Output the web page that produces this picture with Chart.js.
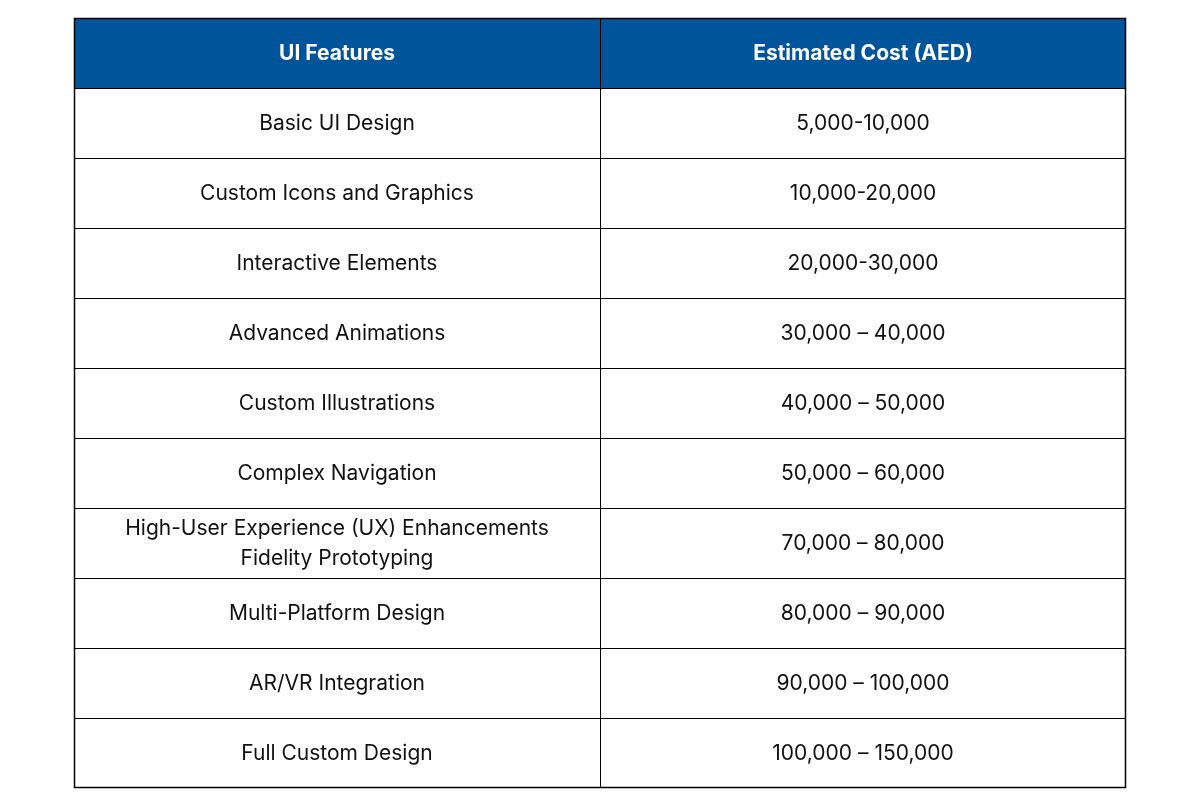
<!DOCTYPE html>
<html><head><meta charset="utf-8">
<script src="https://cdn.jsdelivr.net/npm/chart.js@4/dist/chart.umd.min.js"></script>
<style>html,body{margin:0;padding:0;background:#fff}canvas{display:block}</style>
</head><body>
<canvas id="c" width="1200" height="806"></canvas>
<script>
const headers = ["UI Features", "Estimated Cost (AED)"];
const features = ["Basic UI Design","Custom Icons and Graphics","Interactive Elements","Advanced Animations","Custom Illustrations","Complex Navigation","High-User Experience (UX) Enhancements\nFidelity Prototyping","Multi-Platform Design","AR/VR Integration","Full Custom Design"];
const costs = ["5,000-10,000","10,000-20,000","20,000-30,000","30,000 – 40,000","40,000 – 50,000","50,000 – 60,000","70,000 – 80,000","80,000 – 90,000","90,000 – 100,000","100,000 – 150,000"];
const rows = ["header", ...features.map((f,i)=>"r"+i)];

const tablePlugin = {
  id:'table',
  afterDraw(chart){
    const ctx = chart.ctx, a = chart.chartArea, y = chart.scales.y, x = chart.scales.x;
    const h = (a.bottom - a.top) / rows.length;
    const xMid = x.getPixelForValue(1);
    const colC = [x.getPixelForValue(0.5), x.getPixelForValue(1.5)];
    ctx.save();
    // header
    const hy = y.getPixelForValue(0);
    ctx.fillStyle = '#00549A';
    ctx.fillRect(a.left, hy - h/2, a.right - a.left, h);
    ctx.textAlign='center'; ctx.textBaseline='middle';
    ctx.font = 'bold 21px Inter, "Noto Sans", sans-serif';
    ctx.fillStyle = '#fff';
    headers.forEach((t,i)=>ctx.fillText(t, colC[i], hy+1));
    ctx.font = '21px Inter, "Noto Sans", sans-serif';
    ctx.fillStyle = '#111';
    features.forEach((f,i)=>{
      const cy = y.getPixelForValue(i+1);
      const lines = f.split('\n');
      lines.forEach((l,k)=>ctx.fillText(l, colC[0], cy + 1 + (k-(lines.length-1)/2)*30));
      ctx.fillText(costs[i], colC[1], cy + 1);
    });
    // grid
    ctx.strokeStyle = '#000'; ctx.lineWidth = 1;
    ctx.beginPath();
    for (let i=1;i<rows.length;i++){ const yy = Math.round(a.top + i*h)+0.5; ctx.moveTo(a.left,yy); ctx.lineTo(a.right,yy); }
    ctx.moveTo(Math.round(xMid)+0.5, a.top); ctx.lineTo(Math.round(xMid)+0.5, a.bottom);
    ctx.stroke();
    ctx.lineWidth = 1.5;
    ctx.strokeRect(a.left+0.5, a.top+0.5, a.right-a.left-1, a.bottom-a.top-1);
    ctx.restore();
  }
};

new Chart(document.getElementById('c'), {
  type:'bar',
  data:{labels:rows, datasets:[{data:rows.map(()=>0), backgroundColor:'rgba(0,0,0,0)'}]},
  options:{
    indexAxis:'y', responsive:false, animation:false,
    layout:{padding:{left:74,right:74,top:18,bottom:18}},
    plugins:{legend:{display:false},tooltip:{enabled:false}},
    scales:{
      x:{type:'linear',min:0,max:2,display:false},
      y:{type:'category',display:false,offset:true}
    }
  },
  plugins:[tablePlugin]
});
</script>
</body></html>
